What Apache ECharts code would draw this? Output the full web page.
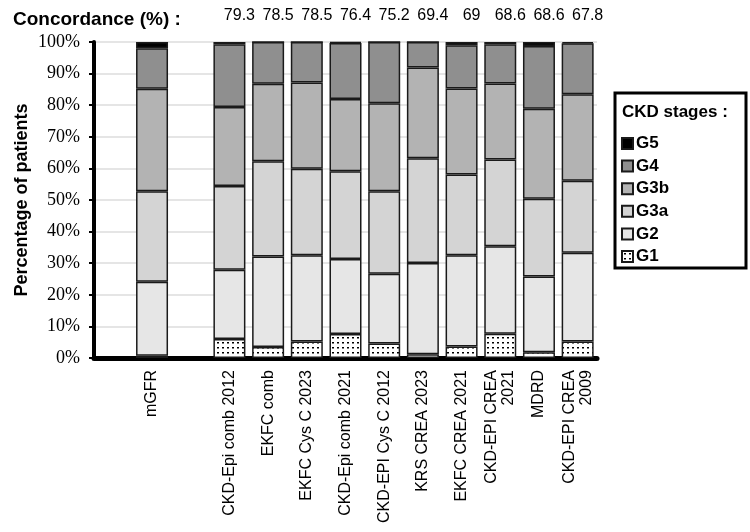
<!DOCTYPE html>
<html>
<head>
<meta charset="utf-8">
<script src="https://cdn.jsdelivr.net/npm/echarts@6/dist/echarts.min.js"></script>
<style>
  html, body { margin: 0; padding: 0; background: #fff; }
  #chart { width: 750px; height: 532px; }
</style>
</head>
<body>
<div id="chart"></div>
<script>
// methods (mGFR first, then the 10 equations)
var methods = ['mGFR', 'CKD-Epi comb 2012', 'EKFC comb', 'EKFC Cys C 2023', 'CKD-Epi comb 2021',
  'CKD-EPI Cys C 2012', 'KRS CREA 2023', 'EKFC CREA 2021', 'CKD-EPI CREA\n2021', 'MDRD', 'CKD-EPI CREA\n2009'];
// concordance with mGFR, one per equation
var concordance = ['79.3', '78.5', '78.5', '76.4', '75.2', '69.4', '69', '68.6', '68.6', '67.8'];
// share of patients (%) per stage
var g1  = [0.7, 6.0, 3.5, 5.2, 7.6, 4.6, 1.2, 3.6, 7.7, 1.8, 5.2];
var g2  = [23.4, 21.9, 28.6, 27.3, 23.7, 22.1, 28.9, 28.9, 27.7, 24.0, 28.1];
var g3a = [28.7, 26.5, 30.2, 27.4, 27.8, 26.1, 33.1, 25.6, 27.4, 24.6, 22.8];
var g3b = [32.4, 25.0, 24.5, 27.3, 22.9, 27.8, 28.7, 27.2, 24.1, 28.5, 27.4];
var g4  = [12.8, 19.9, 13.2, 12.8, 17.7, 19.4, 8.1, 13.7, 12.4, 19.8, 16.1];
var g5  = [2.0, 0.7, 0, 0, 0.3, 0, 0, 1.0, 0.7, 1.3, 0.4];
var yTicks = [0, 10, 20, 30, 40, 50, 60, 70, 80, 90, 100];

// blank slot before mGFR and between mGFR and the equations
var cats = [' ', methods[0], '  '].concat(methods.slice(1));
var topLabels = ['', '', ''].concat(concordance);
function slots(arr) {
  return ['-', arr[0], '-'].concat(arr.slice(1));
}

// dotted fill for G1
var dots = document.createElement('canvas');
dots.width = 5; dots.height = 5;
var ctx = dots.getContext('2d');
ctx.fillStyle = '#fff';
ctx.fillRect(0, 0, 5, 5);
ctx.fillStyle = '#000';
ctx.fillRect(2, 2, 2, 1.5);

var myChart = echarts.init(document.getElementById('chart'));

function stage(name, data, color) {
  return {
    name: name,
    type: 'bar',
    stack: 'total',
    barWidth: 32,
    data: slots(data),
    itemStyle: { color: color, borderColor: '#1a1a1a', borderWidth: 1.5 }
  };
}

option = {
  animation: false,
  title: {
    text: 'Concordance (%) :',
    left: 8,
    top: 5,
    textStyle: { fontFamily: 'Liberation Sans', fontWeight: 'bold', fontSize: 19, color: '#000' }
  },
  legend: {
    orient: 'vertical',
    left: 621,
    top: 135,
    padding: 0,
    itemWidth: 11,
    itemHeight: 11,
    itemGap: 5.6,
    icon: 'rect',
    data: ['G5', 'G4', 'G3b', 'G3a', 'G2', 'G1'],
    textStyle: { fontFamily: 'Liberation Sans', fontWeight: 'bold', fontSize: 17, color: '#000', padding: [0, 0, 0, -2] }
  },
  graphic: [
    {
      type: 'rect',
      shape: { x: 615, y: 93, width: 131, height: 175 },
      style: { fill: '#fff', stroke: '#000', lineWidth: 3 },
      z: -1
    },
    {
      type: 'text',
      left: 622,
      top: 104,
      style: { text: 'CKD stages :', font: 'bold 17px "Liberation Sans"', fill: '#000' }
    }
  ],
  grid: { left: 94, right: 153, top: 42, bottom: 174 },
  xAxis: [
    {
      type: 'category',
      data: cats,
      axisLine: { lineStyle: { color: '#000', width: 5 } },
      axisTick: { show: false },
      axisLabel: {
        interval: 0,
        rotate: 90,
        margin: 12,
        fontFamily: 'Liberation Sans',
        fontSize: 16,
        color: '#000',
        lineHeight: 17
      }
    },
    {
      type: 'category',
      position: 'top',
      data: cats,
      offset: 18,
      axisLine: { show: false },
      axisTick: { show: false },
      axisLabel: {
        interval: 0,
        margin: 0,
        padding: [0, 0, 0, 20],
        fontFamily: 'Liberation Sans',
        fontSize: 16,
        color: '#000',
        formatter: function (v, i) { return topLabels[i]; }
      }
    }
  ],
  yAxis: {
    type: 'value',
    min: yTicks[0],
    max: yTicks[yTicks.length - 1],
    interval: 10,
    name: 'Percentage of patients',
    nameLocation: 'middle',
    nameGap: 63,
    nameMoveOverlap: false,
    nameTextStyle: { fontFamily: 'Liberation Sans', fontWeight: 'bold', fontSize: 18, color: '#000' },
    axisLine: { show: true, lineStyle: { color: '#000', width: 4 } },
    axisTick: { show: true, length: 5, lineStyle: { color: '#000', width: 2 } },
    axisLabel: { fontFamily: 'Liberation Serif', fontSize: 18, color: '#000', margin: 14, formatter: '{value}%' },
    splitLine: { lineStyle: { color: '#dcdcdc', width: 1.5 } }
  },
  series: [
    stage('G1', g1, { image: dots, repeat: 'repeat' }),
    stage('G2', g2, '#e6e6e6'),
    stage('G3a', g3a, '#d4d4d4'),
    stage('G3b', g3b, '#b3b3b3'),
    stage('G4', g4, '#8f8f8f'),
    stage('G5', g5, '#000000')
  ]
};
myChart.setOption(option);
</script>
</body>
</html>
